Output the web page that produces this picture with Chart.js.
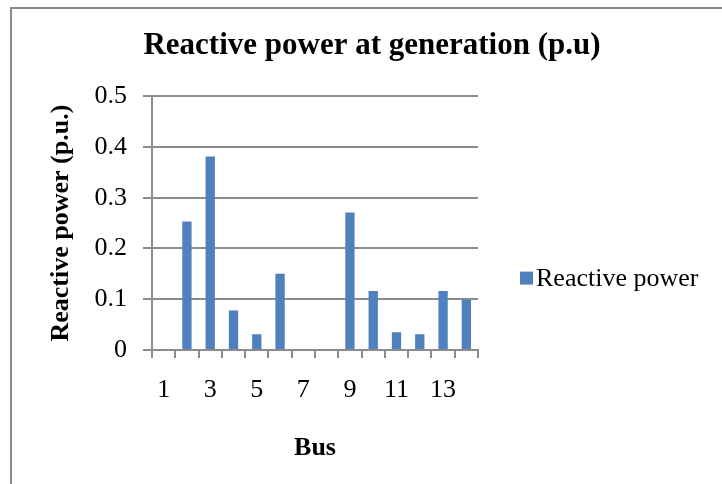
<!DOCTYPE html>
<html>
<head>
<meta charset="utf-8">
<script src="https://cdn.jsdelivr.net/npm/chart.js@4.4.0/dist/chart.umd.min.js"></script>
<style>
  html, body { margin: 0; padding: 0; background: #fff; overflow: hidden; }
  #wrap { position: relative; width: 722px; height: 484px; }
  #frame { position: absolute; left: 10px; top: 7px; width: 760px; height: 520px; border: 2px solid #8a8a8a; box-sizing: border-box; pointer-events: none; }
  canvas { position: absolute; left: 0; top: 0; }
</style>
</head>
<body>
<div id="wrap">
  <canvas id="chartQ" width="722" height="484"></canvas>
  <div id="frame"></div>
</div>
<script>
// bus numbers and reactive power (p.u.)
const buses = ["1", "2", "3", "4", "5", "6", "7", "8", "9", "10", "11", "12", "13", "14"];
const reactivePower = [0, 0.253, 0.381, 0.078, 0.031, 0.15, 0, 0, 0.271, 0.116, 0.035, 0.031, 0.116, 0.099];
const yTicks = [0, 0.1, 0.2, 0.3, 0.4, 0.5];

const serif = "'Liberation Serif', 'Times New Roman', serif";
const gridGrey = "#8c8c8c";

// legend as its own layout box on the right, so the title stays centred on the whole frame
const sideLegend = {
  id: "sideLegend",
  beforeInit(chart) {
    const box = {
      position: "right",
      weight: 10,
      fullSize: false,
      options: {},
      isHorizontal: () => false,
      update(maxWidth, maxHeight) {
        this.width = 244;
        this.height = maxHeight;
      },
      draw() {
        const ctx = chart.ctx;
        const ds = chart.data.datasets[0];
        const area = chart.chartArea;
        const cy = (area.top + area.bottom) / 2 + 55;
        const x = this.left + 42;
        ctx.save();
        ctx.fillStyle = ds.backgroundColor;
        ctx.fillRect(x, cy - 6.5, 13, 13);
        ctx.fillStyle = "#000";
        ctx.font = "26px " + serif;
        ctx.textBaseline = "middle";
        ctx.fillText(ds.label, x + 16, cy + 1);
        ctx.restore();
      },
    };
    Chart.layouts.addBox(chart, box);
  },
};

new Chart(document.getElementById("chartQ"), {
  type: "bar",
  data: {
    labels: buses,
    datasets: [
      {
        label: "Reactive power",
        data: reactivePower,
        backgroundColor: "#4f81bd",
        borderWidth: 0,
        barPercentage: 0.4,
        categoryPercentage: 1,
      },
    ],
  },
  plugins: [sideLegend],
  options: {
    responsive: false,
    animation: false,
    layout: { padding: { left: 22, right: 0, top: 0, bottom: 0 } },
    plugins: {
      tooltip: { enabled: false },
      legend: { display: false },
      title: {
        display: true,
        text: "Reactive power at generation (p.u)",
        color: "#000",
        font: { family: serif, size: 31, weight: "bold" },
        padding: { top: 27, bottom: 32 },
      },
    },
    scales: {
      x: {
        grid: { display: true, drawOnChartArea: false, drawTicks: true, tickLength: 8, color: gridGrey, lineWidth: 2 },
        border: { color: gridGrey, width: 2 },
        ticks: {
          autoSkip: false,
          maxRotation: 0,
          color: "#000",
          font: { family: serif, size: 26 },
          padding: 17,
          callback: (val, i) => (i % 2 === 0 ? buses[i] : ""),
        },
        title: {
          display: true,
          text: "Bus",
          color: "#000",
          font: { family: serif, size: 26, weight: "bold" },
          padding: { top: 20, bottom: 20 },
        },
        afterFit: (s) => { s.height = 134; },
      },
      y: {
        min: 0,
        max: 0.5,
        afterBuildTicks: (s) => { s.ticks = yTicks.map((v) => ({ value: v })); },
        grid: { color: gridGrey, lineWidth: 2, tickLength: 9 },
        border: { color: gridGrey, width: 2 },
        ticks: {
          color: "#000",
          font: { family: serif, size: 26 },
          padding: 16,
          callback: (v) => String(v),
        },
        title: {
          display: true,
          text: "Reactive power (p.u.)",
          color: "#000",
          font: { family: serif, size: 26, weight: "bold" },
          padding: { top: 24, bottom: 0 },
        },
        afterFit: (s) => { s.width = 130; },
      },
    },
  },
});
</script>
</body>
</html>
